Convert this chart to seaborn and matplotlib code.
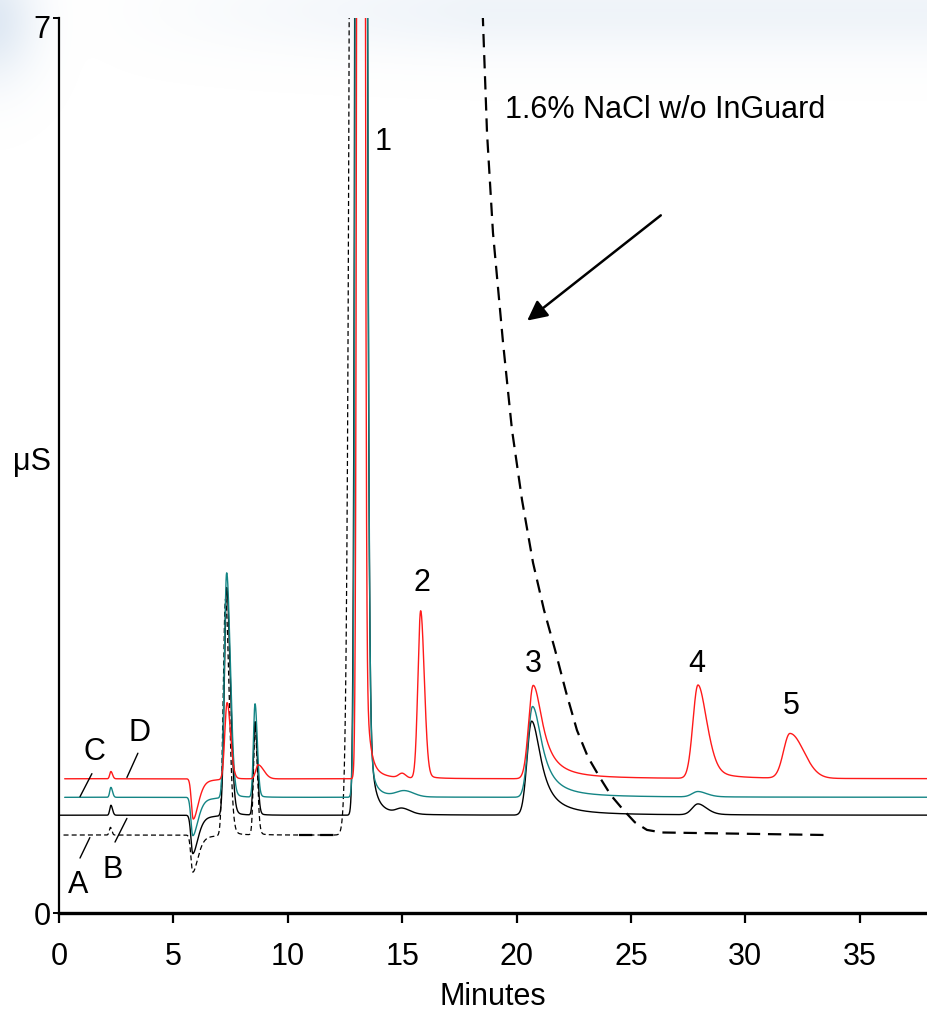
import numpy as np
import pandas as pd
import matplotlib
matplotlib.use("Agg")
import matplotlib.pyplot as plt
import matplotlib.transforms as mtransforms
import seaborn as sns

# baselines of the four runs (uS)
base_A = 0.61
base_B = 0.765
base_C = 0.905
base_D = 1.05

# peak tables: (retention time, height, left width, right width, tail share)
peaks_A = [(2.25, 0.06, 0.05, 0.06, 0.0), (5.85, -0.29, 0.08, 0.25, 0.5),
           (7.28, 1.85, 0.10, 0.16, 0.1), (8.57, 0.85, 0.07, 0.10, 0.1),
           (13.15, 60.0, 0.22, 0.22, 0.0)]
peaks_B = [(2.27, 0.078, 0.05, 0.07, 0.0), (5.85, -0.30, 0.08, 0.25, 0.5),
           (7.33, 1.785, 0.10, 0.16, 0.1), (8.57, 0.73, 0.07, 0.10, 0.1),
           (13.18, 60.0, 0.12, 0.14, 0.0), (13.45, 1.0, 0.05, 0.20, 1.0),
           (15.0, 0.04, 0.25, 0.35, 0.0), (20.66, 0.735, 0.20, 0.50, 1.0),
           (27.93, 0.085, 0.25, 0.40, 0.3)]
peaks_C = [(2.27, 0.078, 0.05, 0.07, 0.0), (5.85, -0.30, 0.08, 0.25, 0.5),
           (7.33, 1.76, 0.10, 0.16, 0.1), (8.57, 0.73, 0.07, 0.10, 0.1),
           (13.19, 60.0, 0.115, 0.14, 0.0), (13.45, 0.55, 0.05, 0.20, 1.0),
           (15.1, 0.045, 0.35, 0.40, 0.0), (20.70, 0.71, 0.20, 0.50, 1.0),
           (27.93, 0.042, 0.25, 0.40, 0.3)]
peaks_D = [(2.27, 0.057, 0.05, 0.07, 0.0), (5.87, -0.315, 0.08, 0.25, 0.5),
           (7.35, 0.60, 0.10, 0.15, 0.1), (8.70, 0.11, 0.10, 0.25, 0.0),
           (13.20, 60.0, 0.09, 0.09, 0.0), (13.40, 0.6, 0.05, 0.20, 1.0),
           (15.0, 0.035, 0.15, 0.15, 0.0), (15.81, 1.31, 0.12, 0.16, 0.1),
           (20.73, 0.73, 0.20, 0.50, 1.0), (27.93, 0.73, 0.22, 0.42, 0.4),
           (31.95, 0.35, 0.28, 0.60, 0.0)]

# 1.6% NaCl w/o InGuard
nacl_flat_time = [10.5, 12.0]
nacl_flat_signal = [0.61, 0.61]
nacl_time = [18.52, 18.71, 18.97, 19.41, 19.80, 20.24, 20.72, 21.20, 21.68,
             22.16, 22.64, 23.12, 23.64, 24.13, 24.65, 25.17, 25.70, 26.35, 33.61]
nacl_signal = [7.04, 6.10, 5.32, 4.46, 3.78, 3.23, 2.74, 2.37, 2.06,
               1.73, 1.43, 1.22, 1.06, 0.92, 0.81, 0.71, 0.65, 0.63, 0.61]

peak_labels = ["1", "2", "3", "4", "5"]
peak_label_x = [14.16, 15.87, 20.72, 27.88, 31.99]
peak_label_y = [6.03, 2.58, 1.95, 1.95, 1.62]


def peak(x, c, h, sl, sr, t):
    d = x - c
    left = h * np.exp(-0.5 * (d / sl) ** 2)
    right = h * ((1 - t) * np.exp(-0.5 * (d / sr) ** 2) + t / (1 + (d / sr) ** 2))
    return np.where(d < 0, left, right)


def trace(x, base, peaks):
    y = np.full_like(x, base)
    for p in peaks:
        y = y + peak(x, *p)
    return y


sns.set_style("ticks")
plt.rcParams['font.family'] = ['Liberation Sans', 'DejaVu Sans']
plt.rcParams.update({"text.color": "black", "axes.labelcolor": "black",
                     "xtick.color": "black", "ytick.color": "black",
                     "axes.edgecolor": "black"})

fig = plt.figure(figsize=(9.27, 10.11), dpi=100)

# faint bluish wash along the top, as in the source slide
bg = fig.add_axes([0, 0, 1, 1], zorder=-5)
yy, xx = np.mgrid[0:1011, 0:927]
band = 0.22 * np.exp(-((yy - 10) / 45.0) ** 2) * np.clip((xx - 80) / 400.0, 0, 1)
blob = 0.45 * np.exp(-((xx + 10) / 45.0) ** 2 - ((yy - 20) / 60.0) ** 2)
alpha = np.clip(band + blob, 0, 1)
rgba = np.zeros((1011, 927, 4))
rgba[..., 0] = 0.72
rgba[..., 1] = 0.80
rgba[..., 2] = 0.90
rgba[..., 3] = alpha
bg.imshow(rgba, aspect="auto", interpolation="bilinear")
bg.axis("off")

ax = fig.add_axes([0.0636, 0.0969, 0.9364, 0.8853])
ax.patch.set_alpha(0)

xa = np.linspace(0.2, 12.95, 3000)
xb = np.linspace(0.0, 38.0, 6000)
xc = np.linspace(0.25, 38.0, 6000)

sns.lineplot(x=xa, y=trace(xa, base_A, peaks_A), ax=ax, color="black",
             lw=0.9, linestyle=(0, (4, 2.5)))
sns.lineplot(x=xb, y=trace(xb, base_B, peaks_B), ax=ax, color="black", lw=1.0)
sns.lineplot(x=xc, y=trace(xc, base_C, peaks_C), ax=ax, color="#148585", lw=1.0)
sns.lineplot(x=xc, y=trace(xc, base_D, peaks_D), ax=ax, color="#ff1a1a", lw=1.0)

sns.lineplot(x=nacl_flat_time, y=nacl_flat_signal, ax=ax, color="black",
             lw=1.6, linestyle=(0, (6, 3.5)))
sns.lineplot(x=nacl_time, y=nacl_signal, ax=ax, color="black",
             lw=1.6, linestyle=(0, (6, 3.5)))

fs = 22
for lab, lx, ly in zip(peak_labels, peak_label_x, peak_label_y):
    ax.text(lx, ly, lab, fontsize=fs, ha="center", va="center")

ax.text(19.49, 6.28, "1.6% NaCl w/o InGuard", fontsize=fs, ha="left", va="center")
ax.annotate("", xy=(20.37, 4.62), xytext=(26.4, 5.47),
            arrowprops=dict(arrowstyle="-|>", color="black", lw=1.8,
                            mutation_scale=30))

# trace letters with leader lines
letters = ["C", "D", "A", "B"]
letter_pos = [(1.57, 1.26), (3.54, 1.41), (0.83, 0.22), (2.36, 0.34)]
leaders = [((0.92, 1.44), (0.91, 1.09)), ((2.97, 3.45), (1.06, 1.25)),
           ((0.92, 1.35), (0.43, 0.59)), ((2.45, 2.97), (0.555, 0.74))]
for lab, (lx, ly), (lxs, lys) in zip(letters, letter_pos, leaders):
    ax.text(lx, ly, lab, fontsize=fs, ha="center", va="center")
    ax.plot(lxs, lys, color="black", lw=1.0)

ax.set_xlim(0, 37.94)
ax.set_ylim(0, 7)
ax.set_xticks(range(0, 40, 5))
ax.set_yticks([0, 7])
ax.tick_params(axis="x", length=7, width=1.6, labelsize=fs, pad=14)
ax.tick_params(axis="y", length=4, width=1.4, labelsize=fs, pad=2)
sns.despine(ax=ax)
ax.spines["bottom"].set_linewidth(2.4)
ax.spines["left"].set_linewidth(1.6)

# the "7" sits a little below its tick
top_lab = ax.yaxis.get_major_ticks()[1].label1
top_lab.set_transform(top_lab.get_transform() +
                      mtransforms.ScaledTranslation(0, -6 / 72, fig.dpi_scale_trans))

ax.set_xlabel("Minutes", fontsize=fs, labelpad=7)
ax.set_ylabel("μS", fontsize=fs, rotation=0, ha="center", va="center")
ax.yaxis.set_label_coords(-0.031, 0.504)

fig.savefig("out.png", dpi=100)
